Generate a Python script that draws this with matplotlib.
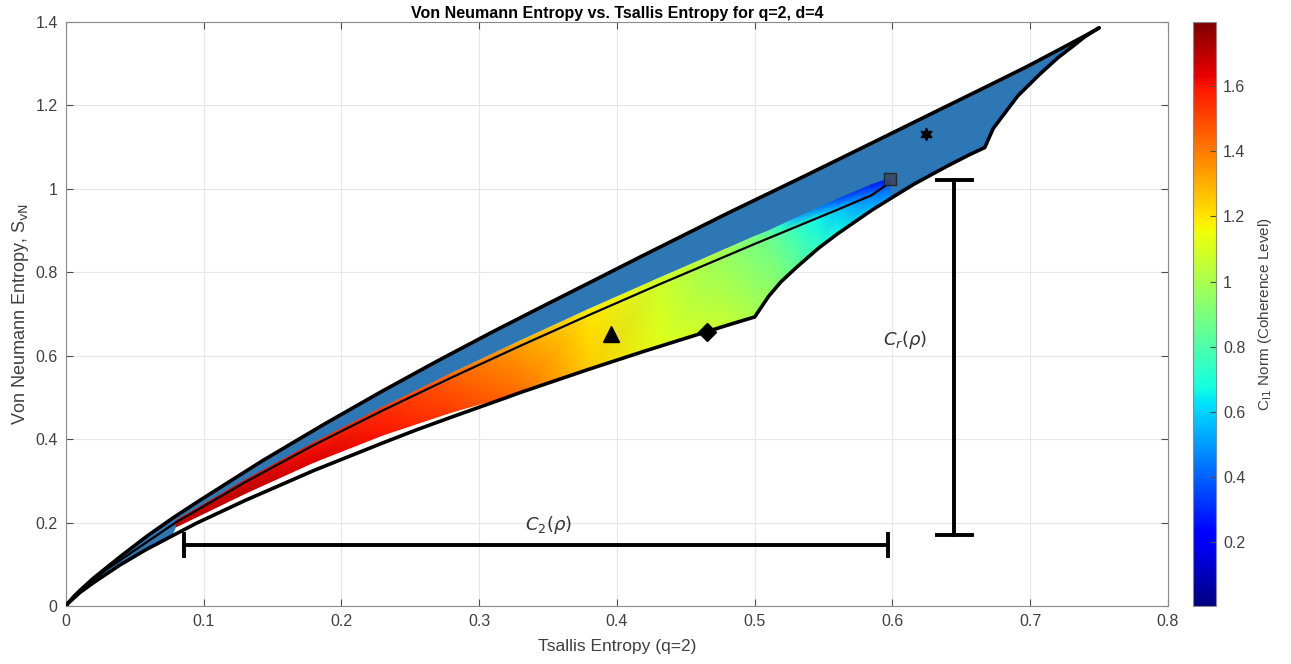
import numpy as np
import matplotlib
matplotlib.use("Agg")
import matplotlib.pyplot as plt
import matplotlib.tri as mtri

plt.rcParams['font.family'] = ['Liberation Sans', 'DejaVu Sans']
plt.rcParams['mathtext.fontset'] = 'dejavusans'

# upper boundary (max entropy curve)
upper_t = [0, 0.002, 0.006, 0.010, 0.020, 0.040, 0.059, 0.078, 0.097, 0.143, 0.187,
           0.229, 0.270, 0.309, 0.347, 0.383, 0.417, 0.480, 0.537, 0.587, 0.630,
           0.667, 0.697, 0.720, 0.737, 0.747, 0.750]
upper_s = [0, 0.009, 0.024, 0.037, 0.067, 0.120, 0.168, 0.212, 0.253, 0.349, 0.435,
           0.514, 0.588, 0.656, 0.720, 0.780, 0.837, 0.941, 1.032, 1.113, 1.183,
           1.243, 1.292, 1.332, 1.362, 1.380, 1.386]

# lower boundary (piecewise)
lower_t = [0, 0.002, 0.006, 0.010, 0.020, 0.039, 0.058, 0.077, 0.095, 0.130, 0.180,
           0.230, 0.255, 0.280, 0.320, 0.330, 0.380, 0.420, 0.450, 0.480, 0.500,
           0.510, 0.519, 0.530, 0.546, 0.560, 0.585, 0.610, 0.616, 0.640, 0.656,
           0.665, 0.667, 0.673, 0.683, 0.691, 0.707, 0.720, 0.731, 0.739, 0.745,
           0.749, 0.750]
lower_s = [0, 0.008, 0.020, 0.032, 0.056, 0.098, 0.135, 0.168, 0.199, 0.253, 0.325,
           0.391, 0.423, 0.453, 0.500, 0.512, 0.568, 0.611, 0.642, 0.673, 0.693,
           0.742, 0.777, 0.811, 0.857, 0.892, 0.949, 1.000, 1.012, 1.055, 1.082,
           1.096, 1.099, 1.144, 1.188, 1.223, 1.275, 1.314, 1.342, 1.363, 1.376,
           1.384, 1.386]

# inner black curve
inner_t = [0, 0.006, 0.010, 0.030, 0.080, 0.130, 0.180, 0.230, 0.280, 0.330, 0.380,
           0.430, 0.480, 0.500, 0.530, 0.560, 0.585, 0.598]
inner_s = [0, 0.023, 0.035, 0.089, 0.201, 0.297, 0.386, 0.469, 0.548, 0.624, 0.698,
           0.770, 0.840, 0.868, 0.909, 0.950, 0.985, 1.015]

# coloured (coherence) band: lower edge, inner line, upper fringe
band_t = [0.08, 0.13, 0.18, 0.23, 0.28, 0.33, 0.38, 0.43, 0.48, 0.50, 0.51, 0.519,
          0.53, 0.546, 0.56, 0.585, 0.598]
band_lo = [0.19, 0.27, 0.345, 0.41, 0.465, 0.512, 0.568, 0.621, 0.673, 0.693, 0.742,
           0.777, 0.811, 0.857, 0.892, 0.949, 0.976]
band_mid = [0.201, 0.297, 0.386, 0.469, 0.548, 0.624, 0.698, 0.770, 0.840, 0.868, 0.881,
            0.894, 0.909, 0.931, 0.950, 0.985, 1.015]
band_hi = [0.205, 0.302, 0.392, 0.477, 0.558, 0.636, 0.712, 0.785, 0.857, 0.886, 0.899,
           0.913, 0.930, 0.954, 0.975, 1.010, 1.025]
c_lo = [1.70, 1.70, 1.65, 1.60, 1.52, 1.42, 1.25, 1.12, 1.06, 1.00, 0.97, 0.92,
        0.85, 0.75, 0.68, 0.58, 0.52]
c_mid = [1.65, 1.65, 1.60, 1.55, 1.45, 1.33, 1.20, 1.08, 0.95, 0.90, 0.87, 0.82,
         0.75, 0.66, 0.58, 0.45, 0.35]
c_hi = [1.60, 1.60, 1.55, 1.50, 1.40, 1.28, 1.18, 1.10, 1.00, 0.90, 0.82, 0.70,
        0.55, 0.45, 0.35, 0.28, 0.25]

# marked states
tri_pt = (0.396, 0.652)
dia_pt = (0.465, 0.657)
hex_pt = (0.624, 1.132)
sq_pt = (0.598, 1.024)

# dimension bars
c2_bar = ([0.086, 0.597], 0.146)
cr_bar = (0.645, [0.170, 1.021])

fig = plt.figure(figsize=(12.91, 6.64), dpi=100)
ax = fig.add_axes([0.0511, 0.0873, 0.8536, 0.8796])
cax = fig.add_axes([0.9241, 0.0873, 0.0178, 0.8796])

blue = '#2c77b4'
# whole region in blue
ax.fill(upper_t + lower_t[::-1], upper_s + lower_s[::-1], color=blue, lw=0, zorder=2)

# white gap under the coloured band at low entropy
lt = np.array(lower_t); ls = np.array(lower_s)
bt = np.array(band_t); bl = np.array(band_lo)
m1 = (lt >= 0.06) & (lt <= 0.33)
m2 = bt <= 0.33
ax.fill(np.r_[lt[m1], bt[m2][::-1]], np.r_[ls[m1], bl[m2][::-1]],
        color='white', lw=0, zorder=3)

# coloured band via gouraud triangles
n = len(band_t)
xs = np.r_[band_t, band_t, band_t]
ys = np.r_[band_lo, band_mid, band_hi]
cs = np.r_[c_lo, c_mid, c_hi]
tris = []
for r in range(2):
    for i in range(n - 1):
        a, b = r * n + i, r * n + i + 1
        c, d = (r + 1) * n + i + 1, (r + 1) * n + i
        tris.append([a, b, c])
        tris.append([a, c, d])
tr = mtri.Triangulation(xs, ys, tris)
pc = ax.tripcolor(tr, cs, shading='gouraud', cmap='jet', vmin=0.004, vmax=1.797, zorder=4)

# boundaries
ax.plot(upper_t, upper_s, color='black', lw=2.6, zorder=6, solid_capstyle='round', solid_joinstyle='round')
ax.plot(lower_t, lower_s, color='black', lw=2.6, zorder=6, solid_capstyle='round', solid_joinstyle='round')
ax.plot(inner_t, inner_s, color='black', lw=1.6, zorder=6, solid_joinstyle='round')

# markers
ax.plot(*tri_pt, marker='^', color='black', ms=12, zorder=7)
ax.plot(*dia_pt, marker='D', color='black', ms=9, zorder=7)
ax.plot(*hex_pt, marker=(6, 1, 0), color='black', ms=9, zorder=7)
ax.plot(*sq_pt, marker='s', mfc='#3a4a66', mec='#222222', ms=9, alpha=0.9, zorder=7)

# dimension bars
x0, x1 = c2_bar[0]
yb = c2_bar[1]
ax.plot([x0, x1], [yb, yb], color='black', lw=2.8, zorder=6)
ax.plot([x0, x0], [yb - 0.026, yb + 0.026], color='black', lw=2.8, zorder=6)
ax.plot([x1, x1], [yb - 0.026, yb + 0.026], color='black', lw=2.8, zorder=6)
xv = cr_bar[0]
y0, y1 = cr_bar[1]
ax.plot([xv, xv], [y0, y1], color='black', lw=2.8, zorder=6)
ax.plot([xv - 0.013, xv + 0.013], [y0, y0], color='black', lw=2.8, zorder=6)
ax.plot([xv - 0.013, xv + 0.013], [y1, y1], color='black', lw=2.8, zorder=6)
ax.text(0.350, 0.195, r'$C_2(\rho)$', fontsize=13, color='#333333', ha='center', va='center')
ax.text(0.609, 0.638, r'$C_r(\rho)$', fontsize=13, color='#333333', ha='center', va='center')

ax.set_xlim(0, 0.8)
ax.set_ylim(0, 1.4)
ax.set_xticks(np.arange(0, 0.81, 0.1))
ax.set_yticks(np.arange(0, 1.41, 0.2))
ax.set_xticklabels(['0', '0.1', '0.2', '0.3', '0.4', '0.5', '0.6', '0.7', '0.8'])
ax.set_yticklabels(['0', '0.2', '0.4', '0.6', '0.8', '1', '1.2', '1.4'])
ax.grid(True, color='#e6e6e6', lw=0.8)
ax.set_axisbelow(True)
ax.tick_params(direction='in', top=True, right=True, length=5, colors='#4d4d4d',
               labelsize=11.5, labelcolor='#404040', pad=6)
for s in ax.spines.values():
    s.set_color('#8a8a8a')
ax.set_xlabel('Tsallis Entropy (q=2)', fontsize=12.5, color='#404040', labelpad=7)
ax.set_ylabel(r'Von Neumann Entropy, S$_{\rm vN}$', fontsize=13, color='#404040', labelpad=3)
ax.set_title('Von Neumann Entropy vs. Tsallis Entropy for q=2, d=4', fontsize=11.5,
             fontweight='bold', pad=3)

cb = fig.colorbar(pc, cax=cax)
cb.set_ticks([0.2, 0.4, 0.6, 0.8, 1.0, 1.2, 1.4, 1.6])
cb.set_ticklabels(['0.2', '0.4', '0.6', '0.8', '1', '1.2', '1.4', '1.6'])
cb.ax.tick_params(direction='in', length=4, labelsize=11.5, colors='#4d4d4d',
                  labelcolor='#404040', pad=5)
cb.outline.set_edgecolor('#8a8a8a')
cb.set_label(r'C$_{\rm l1}$ Norm (Coherence Level)', fontsize=11, color='#404040', labelpad=8)

fig.savefig('out.png', dpi=100)
